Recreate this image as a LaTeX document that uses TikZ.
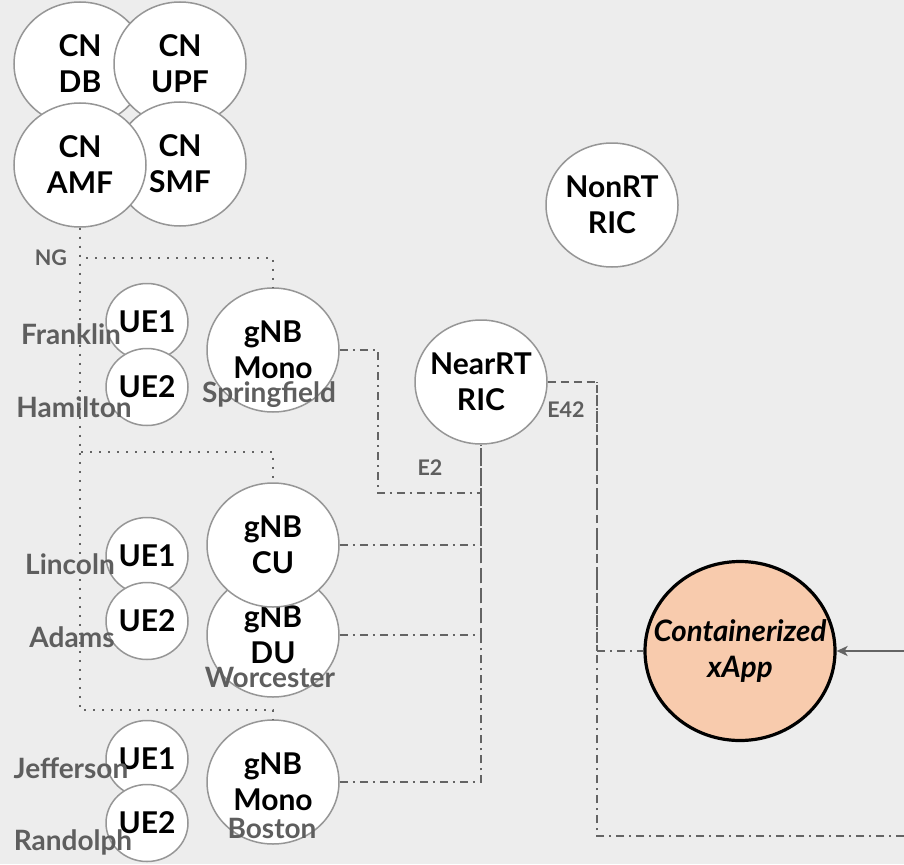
\documentclass[tikz,border=0pt]{standalone}
\usepackage{fontspec}
\setmainfont{Lato}
\usetikzlibrary{shapes.geometric,arrows.meta}
\definecolor{canvas}{RGB}{237,237,237}
\definecolor{rim}{RGB}{150,150,150}
\definecolor{wire}{RGB}{100,100,100}
\definecolor{tagtext}{RGB}{94,94,94}
\definecolor{peach}{RGB}{248,203,173}
\tikzset{
  bubble/.style={ellipse, draw=rim, line width=1.5pt, fill=white, inner sep=0pt,
    minimum width=132pt, minimum height=124pt},
  uebubble/.style={bubble, minimum width=82pt, minimum height=77pt},
  xappbubble/.style={ellipse, draw=black, line width=3.2pt, fill=peach, inner sep=0pt,
    minimum width=190pt, minimum height=179pt},
  btext/.style={align=center, inner sep=0pt, text=black,
    font=\bfseries\fontsize{30}{36}\selectfont},
  placename/.style={inner sep=0pt, text=tagtext, font=\bfseries\fontsize{28}{30}\selectfont},
  iface/.style={inner sep=0pt, text=tagtext, font=\bfseries\fontsize{21.5}{24}\selectfont},
  ngwire/.style={draw=wire, line width=2pt, dash pattern=on 2pt off 7pt},
  e2wire/.style={draw=wire, line width=2pt, dash pattern=on 8pt off 5pt on 2pt off 5pt},
  e42wire/.style={draw=wire, line width=2pt, dash pattern=on 8pt off 5pt},
  feedwire/.style={draw=wire, line width=2pt, -{Stealth[length=11pt,width=10pt,inset=3pt]}}
}
\begin{document}
\begin{tikzpicture}[x=1pt, y=-1pt]
  \fill[canvas] (0,0) rectangle (904,864);
  \useasboundingbox (0,0) rectangle (904,864);

  % core network cluster
  \node[bubble, label={[btext]center:{CN\\DB}}]   (cndb)  at (80,64)  {};
  \node[bubble, label={[btext]center:{CN\\UPF}}]  (cnupf) at (180,64) {};
  \node[bubble, label={[btext]center:{CN\\SMF}}]  (cnsmf) at (180,164) {};
  \node[bubble, label={[btext]center:{CN\\AMF}}]  (cnamf) at (80,165) {};

  % RICs
  \node[bubble, label={[btext]center:{NonRT\\RIC}}]  (nonrt)  at (612,205) {};
  \node[bubble, label={[btext]center:{NearRT\\RIC}}] (nearrt) at (481,382) {};

  % Springfield site
  \node[uebubble, label={[btext]center:{UE1}}] (ueA1) at (147,322) {};
  \node[uebubble, label={[btext]center:{UE2}}] (ueA2) at (147,387) {};
  \node[bubble, label={[btext]center:{gNB\\Mono}}] (gnbA) at (273,350) {};

  % Worcester site
  \node[uebubble, label={[btext]center:{UE1}}] (ueB1) at (147,556) {};
  \node[uebubble, label={[btext]center:{UE2}}] (ueB2) at (147,621) {};
  \node[bubble, label={[btext]center:{gNB\\DU}}] (gnbdu) at (273,635) {};
  \node[bubble, label={[btext]center:{gNB\\CU}}] (gnbcu) at (273,545) {};

  % Boston site
  \node[uebubble, label={[btext]center:{UE1}}] (ueC1) at (147,759) {};
  \node[uebubble, label={[btext]center:{UE2}}] (ueC2) at (147,823) {};
  \node[bubble, label={[btext]center:{gNB\\Mono}}] (gnbC) at (273,782) {};

  % xApp
  \node[xappbubble, label={[btext, font=\bfseries\itshape\fontsize{29.5}{36}\selectfont]center:{Containerized\\xApp}}] (xapp) at (740,651) {};

  % site and device names
  \node[placename] (nFranklin)  at (71,334)  {Franklin};
  \node[placename] (nHamilton)  at (74,407)  {Hamilton};
  \node[placename] (nSpring)    at (269,395) {Springfield};
  \node[placename] (nLincoln)   at (70,564)  {Lincoln};
  \node[placename] (nAdams)     at (72,637)  {Adams};
  \node[placename] (nWorcester) at (270,677) {Worcester};
  \node[placename] (nJefferson) at (71,768)  {Jefferson};
  \node[placename] (nRandolph)  at (73,842)  {Randolph};
  \node[placename] (nBoston)    at (272,828) {Boston};

  % interface tags
  \node[iface] (tNG)  at (51,258)  {NG};
  \node[iface] (tE2)  at (430,468) {E2};
  \node[iface] (tE42) at (566,410) {E42};

  % NG links from the AMF
  \draw[ngwire] (cnamf.south) -- ++(0,30)  -| (gnbA.north);
  \draw[ngwire] (cnamf.south) -- ++(0,224) -| (gnbcu.north);
  \draw[ngwire] (cnamf.south) -- ++(0,482) -| (gnbC.north);

  % E2 links to the near-RT RIC
  \draw[e2wire] (gnbA.east) -- ++(38,0) -- ++(0,143) -| (nearrt.south);
  \draw[e2wire] (gnbcu.east) -| (nearrt.south);
  \draw[e2wire] (gnbdu.east) -| (nearrt.south);
  \draw[e2wire] (gnbC.east)  -| (nearrt.south);

  % E42 and xApp links
  \coordinate (e42top) at (597,382);
  \coordinate (e42mid) at (597,651);
  \coordinate (southin) at (904,836);
  \coordinate (feedin) at (904,651);
  \draw[e42wire] (nearrt.east) -- (e42top) -- (e42mid);
  \draw[e2wire] (southin) -| (e42top);
  \draw[e2wire] (e42mid) -- (xapp.west);
  \draw[feedwire] (feedin) -- (xapp.east);
\end{tikzpicture}
\end{document}
